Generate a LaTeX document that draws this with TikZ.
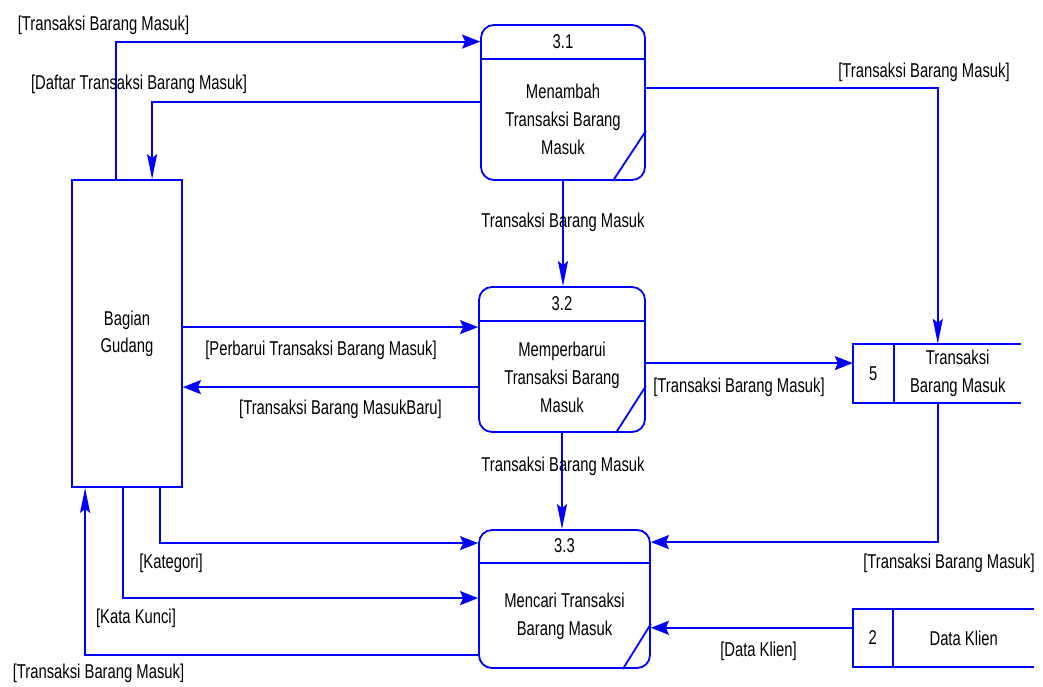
\documentclass[tikz,border=0pt]{standalone}
\usepackage{fontspec}
\setmainfont{Liberation Sans}[FakeStretch=0.74]
\usetikzlibrary{arrows.meta,calc,positioning}
\definecolor{garis}{HTML}{0000FF}

\tikzset{
  proses/.style={draw=garis, line width=1.8pt, rounded corners=13pt, inner sep=0pt},
  entitas/.style={draw=garis, line width=1.8pt, inner sep=0pt, font=\fontsize{20}{27}\selectfont, align=center},
  simpan/.style={inner sep=0pt},
  tepi/.style={draw=garis, line width=1.8pt},
  alurH/.style={draw=garis, line width=1.8pt, -{Stealth[length=18pt,width=14pt,inset=3pt]}},
  alurV/.style={draw=garis, line width=1.8pt, -{Stealth[length=25pt,width=10pt,inset=4pt]}},
  lbl/.style={font=\fontsize{20}{28}\selectfont, align=center, inner sep=0pt},
}

\begin{document}
\begin{tikzpicture}[x=1pt,y=-1pt]
\useasboundingbox (0,0) rectangle (1043,686);

% entitas
\node[entitas, minimum width=110pt, minimum height=307pt] (gd) at (127,333.5) {Bagian\\Gudang};

% proses 3.1
\node[proses, minimum width=164pt, minimum height=155pt] (p31) at (563,102.5) {};
\draw[tepi] ($(p31.north west)+(0,35)$) -- ($(p31.north east)+(0,35)$);
\draw[tepi] ($(p31.south east)+(-33,0)$) -- ($(p31.south east)+(0,-50)$);
\node[lbl] (p31no) at ($(p31.north)+(0,17.5)$) {3.1};
\node[lbl] (p31tx) at ($(p31.north)+(0,95)$) {Menambah\\Transaksi Barang\\Masuk};

% proses 3.2
\node[proses, minimum width=166pt, minimum height=145pt] (p32) at (562,359.5) {};
\draw[tepi] ($(p32.north west)+(0,35)$) -- ($(p32.north east)+(0,35)$);
\draw[tepi] ($(p32.south east)+(-30,0)$) -- ($(p32.south east)+(0,-47)$);
\node[lbl] (p32no) at ($(p32.north)+(0,17.5)$) {3.2};
\node[lbl] (p32tx) at ($(p32.north)+(0,91)$) {Memperbarui\\Transaksi Barang\\Masuk};

% proses 3.3
\node[proses, minimum width=171pt, minimum height=138pt] (p33) at (564.5,599) {};
\draw[tepi] ($(p33.north west)+(0,34)$) -- ($(p33.north east)+(0,34)$);
\draw[tepi] ($(p33.south east)+(-28,0)$) -- ($(p33.south east)+(0,-45)$);
\node[lbl] (p33no) at ($(p33.north)+(0,17)$) {3.3};
\node[lbl] (p33tx) at ($(p33.north)+(0,87)$) {Mencari Transaksi\\Barang Masuk};

% data store 5
\node[simpan, minimum width=168pt, minimum height=59pt] (ds5) at (937,373.5) {};
\draw[tepi] (ds5.north east) -- (ds5.north west) -- (ds5.south west) -- (ds5.south east);
\draw[tepi] ($(ds5.north west)+(41,0)$) -- ($(ds5.south west)+(41,0)$);
\node[lbl] (ds5no) at ($(ds5.west)+(20.5,0)$) {5};
\node[lbl] (ds5tx) at ($(ds5.east)+(-63.5,0)$) {Transaksi\\Barang Masuk};

% data store 2
\node[simpan, minimum width=181pt, minimum height=58pt] (ds2) at (943.5,638) {};
\draw[tepi] (ds2.north east) -- (ds2.north west) -- (ds2.south west) -- (ds2.south east);
\draw[tepi] ($(ds2.north west)+(40,0)$) -- ($(ds2.south west)+(40,0)$);
\node[lbl] (ds2no) at ($(ds2.west)+(20,0)$) {2};
\node[lbl] (ds2tx) at ($(ds2.east)+(-70.5,0)$) {Data Klien};

% titik sambung
\coordinate (gdN1) at ($(gd.north west)+(45,0)$);
\coordinate (gdN2) at ($(gd.north west)+(81,0)$);
\coordinate (gdS1) at ($(gd.south west)+(14,0)$);
\coordinate (gdS2) at ($(gd.south west)+(52,0)$);
\coordinate (gdS3) at ($(gd.south west)+(89,0)$);
\coordinate (p31w) at ($(p31.north west)+(0,78)$);
\coordinate (p31e) at ($(p31.north east)+(0,64)$);
\coordinate (p32w1) at ($(p32.north west)+(0,41)$);
\coordinate (p32w2) at ($(p32.north west)+(0,101)$);
\coordinate (p32e) at ($(p32.north east)+(0,77)$);
\coordinate (p33w1) at ($(p33.north west)+(0,14)$);
\coordinate (p33w2) at ($(p33.north west)+(0,69)$);
\coordinate (p33w3) at ($(p33.north west)+(0,126)$);
\coordinate (p33e1) at ($(p33.north east)+(0,13)$);
\coordinate (ds5N) at ($(ds5.north west)+(85,0)$);
\coordinate (ds5S) at ($(ds5.south west)+(85,0)$);
\coordinate (ds2w) at ($(ds2.north west)+(0,19)$);

% alur data
\draw[alurH] (gdN1) |- (p31no -| p31.west);
\draw[alurV] (p31w) -| (gdN2);
\draw[alurV] (p31e) -| (ds5N);
\draw[alurV] (p31.south) -- (p31.south |- p32.north);
\draw[alurH] (p32w1 -| gd.east) -- (p32w1);
\draw[alurH] (p32w2) -- (p32w2 -| gd.east);
\draw[alurH] (p32e) -- (p32e -| ds5.west);
\draw[alurV] (p32.south) -- (p32.south |- p33.north);
\draw[alurH] (ds5S) |- (p33e1);
\draw[alurH] (gdS3) |- (p33w1);
\draw[alurH] (gdS2) |- (p33w2);
\draw[alurV] (p33w3) -| (gdS1);
\draw[alurH] (ds2w) -- (ds2w -| p33.east);

% label alur
\node[lbl] (l1) at (103.5,25) {[Transaksi Barang Masuk]};
\node[lbl] (l2) at (139,84) {[Daftar Transaksi Barang Masuk]};
\node[lbl] (l3) at (924,72) {[Transaksi Barang Masuk]};
\node[lbl] (l4) at (563,222) {Transaksi Barang Masuk};
\node[lbl] (l5) at (321,350) {[Perbarui Transaksi Barang Masuk]};
\node[lbl] (l6) at (340.5,409) {[Transaksi Barang MasukBaru]};
\node[lbl] (l7) at (739,387) {[Transaksi Barang Masuk]};
\node[lbl] (l8) at (563,466) {Transaksi Barang Masuk};
\node[lbl] (l9) at (949,563) {[Transaksi Barang Masuk]};
\node[lbl] (l10) at (171,563) {[Kategori]};
\node[lbl] (l11) at (136,618) {[Kata Kunci]};
\node[lbl] (l12) at (98.5,673) {[Transaksi Barang Masuk]};
\node[lbl] (l13) at (758.5,651) {[Data Klien]};
\end{tikzpicture}
\end{document}
